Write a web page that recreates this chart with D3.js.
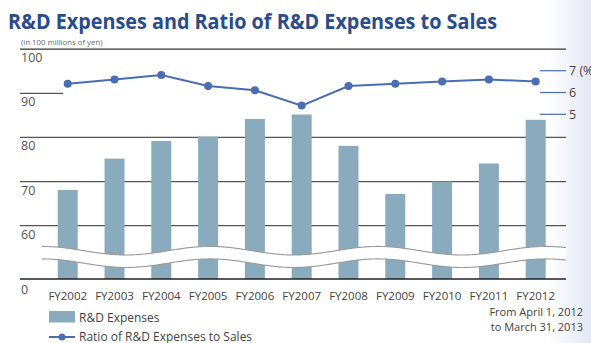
<!DOCTYPE html>
<html>
<head>
<meta charset="utf-8">
<script src="https://cdn.jsdelivr.net/npm/d3@7"></script>
<style>
  html, body { margin: 0; padding: 0; background: #fff; }
  svg { display: block; }
  text { font-family: "Open Sans", "Noto Sans", sans-serif; }
</style>
</head>
<body>
<svg id="chart" width="591" height="343"></svg>
<script>
// Fiscal years and values
const years = ["FY2002","FY2003","FY2004","FY2005","FY2006","FY2007","FY2008","FY2009","FY2010","FY2011","FY2012"];
const rdExpenses = [68.1, 75.2, 79.2, 80.2, 84.2, 85.2, 78.1, 67.2, 70.0, 74.1, 84.0];   // 100 millions of yen
const rdRatio = [6.4, 6.6, 6.8, 6.3, 6.1, 5.4, 6.3, 6.4, 6.5, 6.6, 6.5];                  // % of sales
const leftTicks = [0, 60, 70, 80, 90, 100];
const rightTicks = [5, 6, 7];
const rightTickLabels = ["5", "6", "7 (%)"];

const svg = d3.select("#chart");
const W = 591, H = 343;

// soft tinted backdrop on the right edge
const defs = svg.append("defs");
const grad = defs.append("linearGradient").attr("id", "edge").attr("x1", 0).attr("x2", 1).attr("y1", 0).attr("y2", 0);
grad.append("stop").attr("offset", "0%").attr("stop-color", "#ffffff");
grad.append("stop").attr("offset", "100%").attr("stop-color", "#e3e7f4");
svg.append("rect").attr("x", 548).attr("y", 0).attr("width", W - 548).attr("height", H).attr("fill", "url(#edge)");

const plotLeft = 20, plotRight = 566;

// broken value axis: 0 at the baseline, 60–100 in the upper part
const y = d3.scaleLinear().domain([0, 60, 100]).range([279, 225.7, 49.2]);
const y2 = d3.scaleLinear().domain([5, 7]).range([114.3, 70.7]);
const x = d3.scaleBand().domain(years).range([44.3, 559.1]).paddingInner(0.573).paddingOuter(0.287);

// title
svg.append("text").attr("x", 8).attr("y", 29)
  .attr("font-size", 21).attr("font-weight", 700).attr("fill", "#2b4c8c")
  .attr("textLength", 489).attr("lengthAdjust", "spacingAndGlyphs")
  .text("R&D Expenses and Ratio of R&D Expenses to Sales");
svg.append("text").attr("x", 21).attr("y", 45)
  .attr("font-size", 7.8).attr("fill", "#666")
  .text("(in 100 millions of yen)");

// horizontal grid
const gridTicks = [60, 70, 80, 100];
svg.selectAll("line.grid").data(gridTicks).enter().append("line")
  .attr("class", "grid")
  .attr("x1", plotLeft).attr("x2", plotRight)
  .attr("y1", d => y(d)).attr("y2", d => y(d))
  .attr("stroke", d => d === 100 ? "#333" : "#555").attr("stroke-width", 1.3);
svg.append("line").attr("x1", plotLeft).attr("x2", 63)
  .attr("y1", y(90)).attr("y2", y(90))
  .attr("stroke", "#555").attr("stroke-width", 1.3);

// left axis labels (placed under each rule)
svg.selectAll("text.ltick").data(leftTicks).enter().append("text")
  .attr("class", "ltick")
  .attr("x", 21).attr("y", d => y(d) + (d === 0 ? 15 : 13))
  .attr("font-size", 12.5).attr("fill", "#555")
  .text(d => d);

// bars
svg.selectAll("rect.bar").data(rdExpenses).enter().append("rect")
  .attr("class", "bar")
  .attr("x", (d, i) => x(years[i]))
  .attr("width", x.bandwidth())
  .attr("y", d => y(d))
  .attr("height", d => y(0) - y(d))
  .attr("fill", "#8aabbd");

// wavy break band across the bars
const wave = xx => 250.7 - 4.3 * Math.cos(2 * Math.PI * (xx - 210) / 168);
const bandGap = 12.5;
const xs = d3.range(42, plotRight + 0.5, 2);
const topPts = xs.map(v => [v, wave(v)]);
const botPts = xs.map(v => [v, wave(v) + bandGap]);
const areaGen = d3.area().x(d => d[0]).y0(d => wave(d[0])).y1(d => wave(d[0]) + bandGap).curve(d3.curveBasis);
svg.append("path").datum(topPts).attr("d", areaGen).attr("fill", "#fff");
const lineGen = d3.line().curve(d3.curveBasis);
[topPts, botPts].forEach(p => {
  svg.append("path").attr("d", lineGen(p)).attr("fill", "none")
    .attr("stroke", "#9a9a9a").attr("stroke-width", 1.1);
});

// baseline
svg.append("line").attr("x1", plotLeft).attr("x2", plotRight)
  .attr("y1", y(0)).attr("y2", y(0)).attr("stroke", "#222").attr("stroke-width", 1.4);

// category labels
svg.selectAll("text.xlab").data(years).enter().append("text")
  .attr("class", "xlab")
  .attr("x", d => x(d) + x.bandwidth() / 2).attr("y", 300)
  .attr("text-anchor", "middle").attr("font-size", 11.5).attr("fill", "#444")
  .text(d => d);

// right axis (ratio)
svg.selectAll("line.rtick").data(rightTicks).enter().append("line")
  .attr("class", "rtick")
  .attr("x1", 540).attr("x2", 566)
  .attr("y1", d => y2(d)).attr("y2", d => y2(d))
  .attr("stroke", "#4a6db3").attr("stroke-width", 1.2);
svg.selectAll("text.rlab").data(rightTicks).enter().append("text")
  .attr("class", "rlab")
  .attr("x", 569).attr("y", d => y2(d) + 4.5)
  .attr("font-size", 12.5).attr("fill", "#444")
  .text((d, i) => rightTickLabels[i]);

// ratio line
const cx = i => x(years[i]) + x.bandwidth() / 2;
svg.append("path")
  .attr("d", d3.line().x((d, i) => cx(i)).y(d => y2(d))(rdRatio))
  .attr("fill", "none").attr("stroke", "#4a6db3").attr("stroke-width", 2);
svg.selectAll("circle.pt").data(rdRatio).enter().append("circle")
  .attr("class", "pt")
  .attr("cx", (d, i) => cx(i)).attr("cy", d => y2(d)).attr("r", 4)
  .attr("fill", "#4a6db3");

// legend
svg.append("rect").attr("x", 49).attr("y", 311).attr("width", 26).attr("height", 11.5).attr("fill", "#8aabbd");
svg.append("text").attr("x", 79).attr("y", 322).attr("font-size", 12).attr("fill", "#444").text("R&D Expenses");
svg.append("line").attr("x1", 49).attr("x2", 75).attr("y1", 337).attr("y2", 337)
  .attr("stroke", "#4a6db3").attr("stroke-width", 2);
svg.append("circle").attr("cx", 62).attr("cy", 337).attr("r", 3.5).attr("fill", "#4a6db3");
svg.append("text").attr("x", 79).attr("y", 341).attr("font-size", 12).attr("fill", "#444").text("Ratio of R&D Expenses to Sales");

// period note
svg.append("text").attr("x", 583).attr("y", 316).attr("text-anchor", "end")
  .attr("font-size", 11).attr("fill", "#444").text("From April 1, 2012");
svg.append("text").attr("x", 583).attr("y", 331).attr("text-anchor", "end")
  .attr("font-size", 11).attr("fill", "#444").text("to March 31, 2013");
</script>
</body>
</html>
